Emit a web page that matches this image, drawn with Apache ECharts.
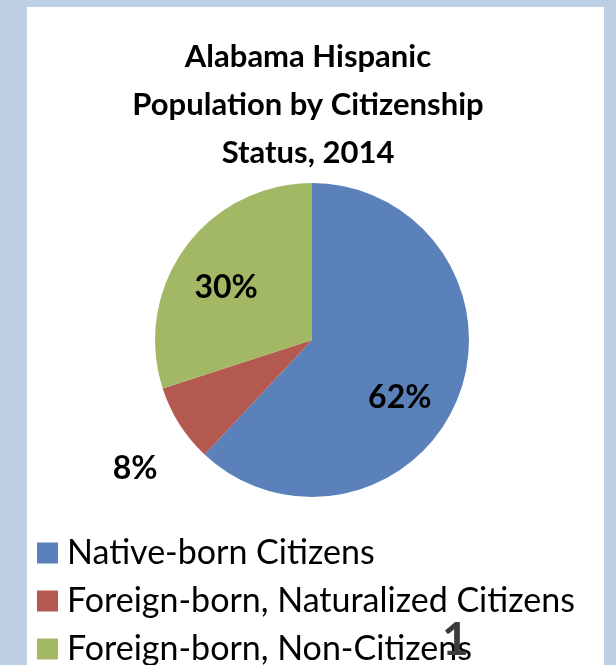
<!DOCTYPE html>
<html>
<head>
<meta charset="utf-8">
<script src="https://cdn.jsdelivr.net/npm/echarts@6/dist/echarts.min.js"></script>
<style>
  html, body { margin: 0; padding: 0; background: #bccfe3; }
  #chart { width: 616px; height: 665px; }
</style>
</head>
<body>
<div id="chart"></div>
<script>
const categories = ['Native-born Citizens', 'Foreign-born, Naturalized Citizens', 'Foreign-born, Non-Citizens']
const shares = [62, 8, 30]
const colors = ['#5A81B9', '#B3594F', '#A2B864']
const titleLines = ['Alabama Hispanic', 'Population by Citizenship', 'Status, 2014']

const font = 'Lato'
// nudge the percent labels to where the original slide placed them
const labelShift = [[12, 28], [-108, 85], [-20, -4]]

const pieData = categories.map(function (name, i) {
  return { name: name, value: shares[i], itemStyle: { color: colors[i] } }
})

const chart = echarts.init(document.getElementById('chart'))
chart.setOption({
  backgroundColor: '#bccfe3',
  animation: false,
  graphic: [
    {
      type: 'rect',
      z: -1,
      shape: { x: 27, y: 7, width: 577, height: 670 },
      style: { fill: '#ffffff' },
    },
    {
      type: 'text',
      left: 442,
      top: 617,
      z: 10,
      style: { text: '1', font: 'bold 46px ' + font, fill: '#3c3c3c' },
    },
  ],
  title: {
    text: titleLines.join('\n'),
    left: 'center',
    top: 28,
    textStyle: {
      fontFamily: font,
      fontWeight: 'bold',
      fontSize: 31,
      lineHeight: 48,
      color: '#000',
    },
  },
  legend: {
    orient: 'vertical',
    left: 37,
    top: 536,
    height: 200,
    padding: 0,
    itemWidth: 21,
    itemHeight: 21,
    itemGap: 14,
    icon: 'rect',
    textStyle: { fontFamily: font, fontSize: 34, color: '#000', padding: [0, 0, 0, 4] },
    data: categories,
  },
  series: [
    {
      type: 'pie',
      center: [312, 340],
      radius: 157,
      startAngle: 90,
      clockwise: true,
      label: {
        position: 'inside',
        formatter: '{c}%',
        fontFamily: font,
        fontWeight: 'bold',
        fontSize: 32,
        color: '#000',
      },
      labelLine: { show: false },
      labelLayout: function (params) {
        const s = labelShift[params.dataIndex]
        return { dx: s[0], dy: s[1] }
      },
      emphasis: { disabled: true },
      data: pieData,
    },
  ],
})
</script>
</body>
</html>
